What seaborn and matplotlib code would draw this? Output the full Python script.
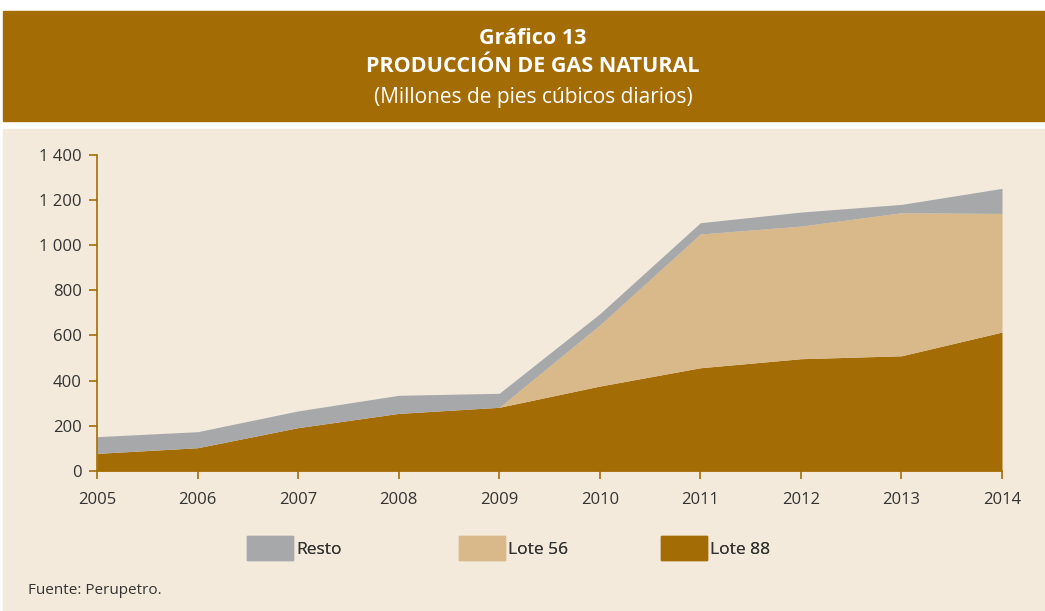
import seaborn as sns
import numpy as np
import pandas as pd
import matplotlib
matplotlib.use("Agg")
import matplotlib.pyplot as plt
from matplotlib.patches import Rectangle, Patch

# data (millions of cubic feet per day)
years = [2005, 2006, 2007, 2008, 2009, 2010, 2011, 2012, 2013, 2014]
lote_88 = [78, 103, 192, 255, 282, 376, 457, 497, 510, 615]
lote_56 = [0, 0, 0, 0, 0, 270, 592, 587, 633, 525]
resto = [74, 71, 74, 80, 62, 50, 50, 62, 37, 111]
y_ticks = [0, 200, 400, 600, 800, 1000, 1200, 1400]

brown = "#A46C05"
tan = "#D9B98A"
grey = "#A7A8AA"
beige = "#F3EADC"
txt = "#333333"

sns.set_style("white")
plt.rcParams['font.family'] = ['Open Sans', 'DejaVu Sans']

df = pd.DataFrame({"Año": years, "Lote 88": lote_88, "Lote 56": lote_56, "Resto": resto})

fig = plt.figure(figsize=(10.45, 6.11), dpi=100)
fig.patch.set_facecolor("white")

# title banner and panel (behind the axes)
fig.patches.append(Rectangle((3 / 1045, 1 - 121 / 611), 1042 / 1045, 110 / 611,
                             transform=fig.transFigure, color=brown, zorder=-10))
fig.patches.append(Rectangle((3 / 1045, 0), 1042 / 1045, 1 - 129 / 611,
                             transform=fig.transFigure, color=beige, zorder=-10))

fig.text(533 / 1045, 1 - 38 / 611, "Gráfico 13", color="white", fontsize=15.5,
         fontweight="bold", ha="center", va="center")
fig.text(533 / 1045, 1 - 67 / 611, "PRODUCCIÓN DE GAS NATURAL", color="white",
         fontsize=15.5, fontweight="bold", ha="center", va="center")
fig.text(533 / 1045, 1 - 97 / 611, "(Millones de pies cúbicos diarios)", color="white",
         fontsize=15, ha="center", va="center")

ax = fig.add_axes([97 / 1045, 1 - 471 / 611, 905 / 1045, 316.3 / 611])
ax.set_zorder(5)
ax.set_facecolor(beige)
ax.stackplot(df["Año"], df["Lote 88"], df["Lote 56"], df["Resto"],
             colors=[brown, tan, grey], linewidth=0)

ax.set_xlim(2005, 2014)
ax.set_ylim(0, 1400)
ax.set_xticks(years)
ax.set_xticklabels([str(y) for y in years])
ax.set_yticks(y_ticks)
ax.set_yticklabels([f"{v:,}".replace(",", " ") for v in y_ticks])

sns.despine(ax=ax, top=True, right=True)
for side in ["left", "bottom"]:
    ax.spines[side].set_color(brown)
    ax.spines[side].set_linewidth(1.2)
    ax.spines[side].set_zorder(6)
ax.tick_params(axis="both", bottom=True, left=True, colors=brown, length=6,
               width=1.2, labelsize=12, labelcolor=txt, direction="out")
ax.tick_params(axis="x", pad=9)
ax.tick_params(axis="y", pad=5)
ax.set_xlabel("")
ax.set_ylabel("")

# legend entries, each placed at its own spot like the reference
entries = [("Resto", grey, 247), ("Lote 56", tan, 459), ("Lote 88", brown, 661)]
for name, col, x0 in entries:
    leg = fig.legend(handles=[Patch(color=col, label=name)], loc="center left",
                     bbox_to_anchor=(x0 / 1045, 1 - 548 / 611), frameon=False,
                     fontsize=12.5, handlelength=2.65, handleheight=1.7,
                     handletextpad=0.2, borderpad=0, borderaxespad=0,
                     labelcolor=txt)
    fig.add_artist(leg)

fig.text(28 / 1045, 1 - 590 / 611, "Fuente: Perupetro.", color=txt, fontsize=11,
         ha="left", va="center")

fig.savefig("out.png", dpi=100, facecolor=fig.get_facecolor())
